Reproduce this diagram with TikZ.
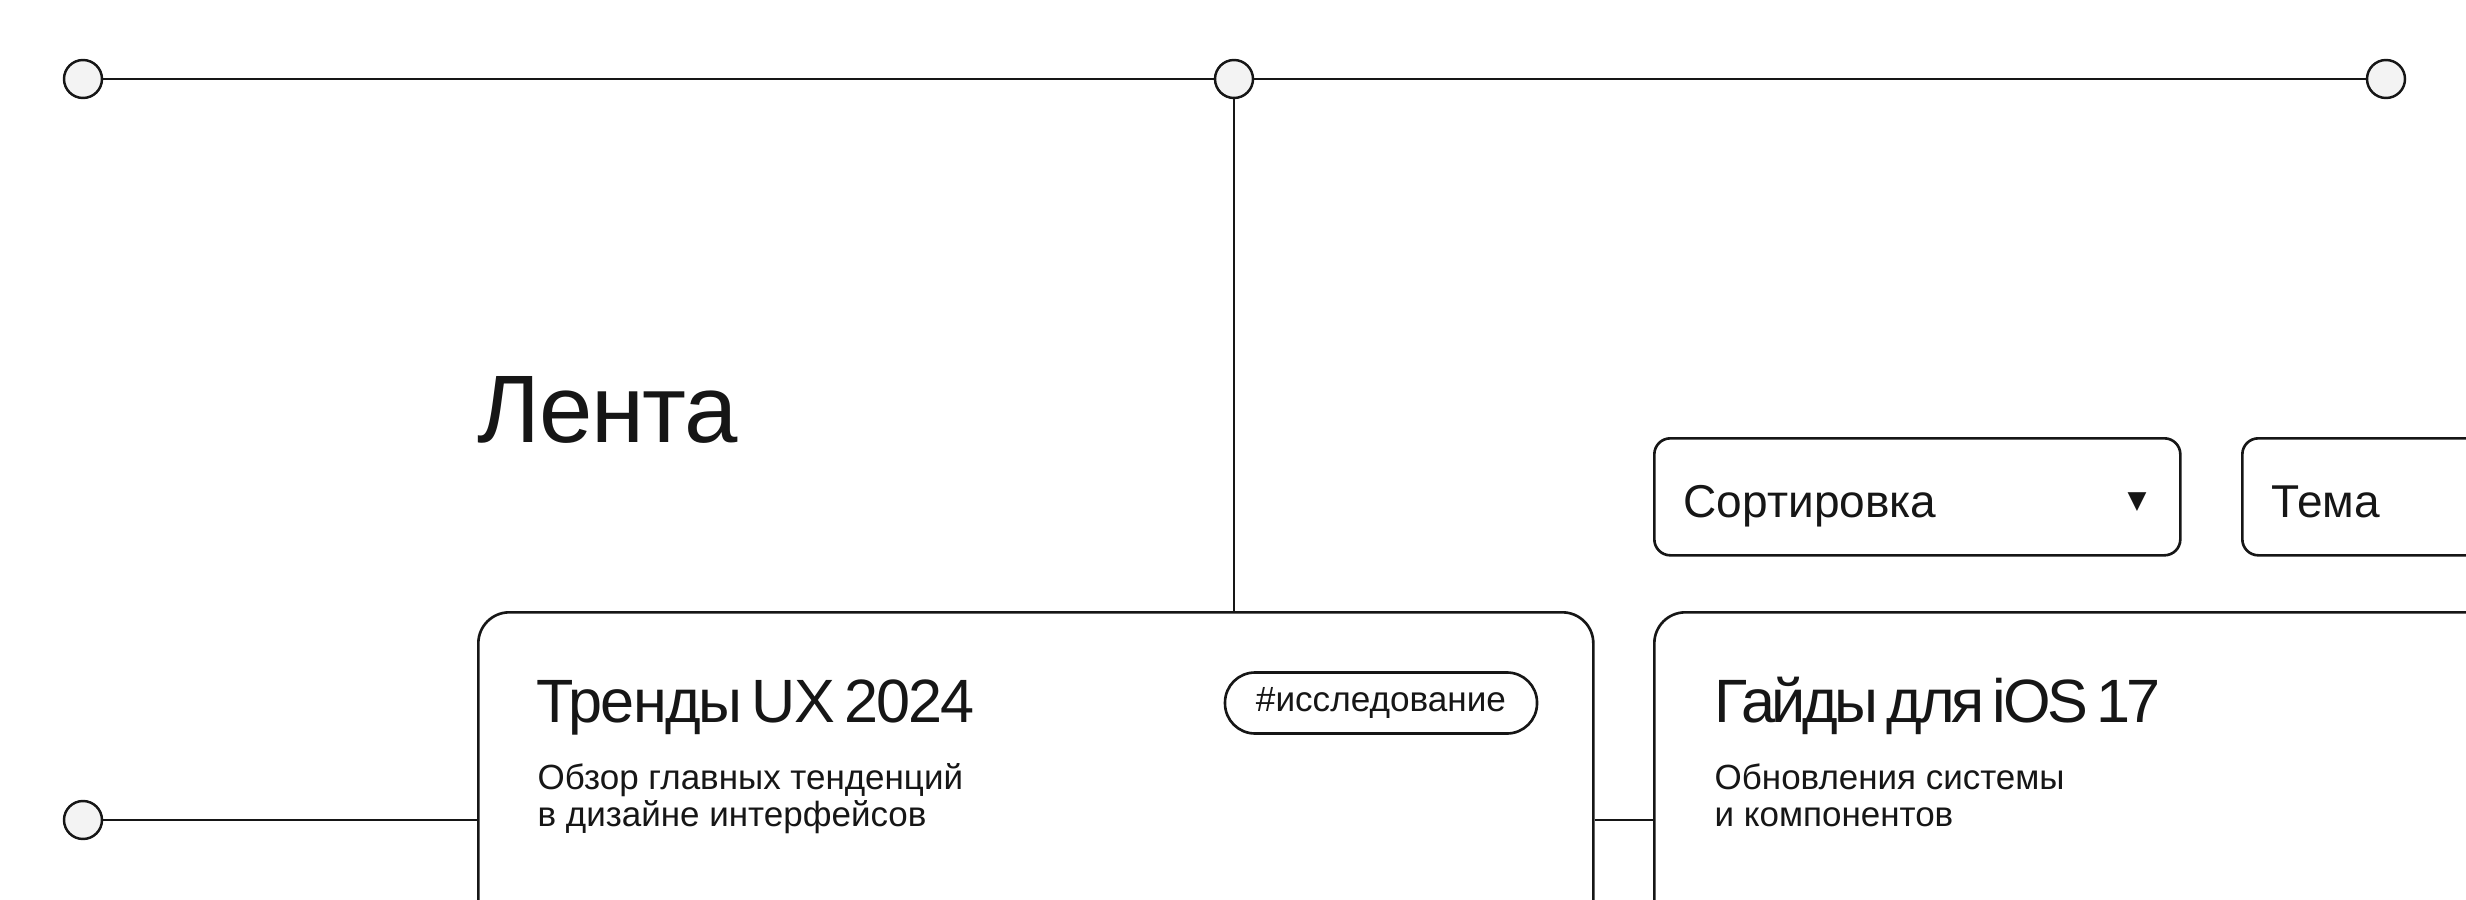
\documentclass[tikz,border=0pt]{standalone}
\usepackage{fontspec}
\setmainfont{Liberation Sans}
\newfontfamily\bigfont[LetterSpace=-1.5]{Liberation Sans}
\newfontfamily\headfont[LetterSpace=-3,WordSpace=0.6]{Liberation Sans}
\newfontfamily\tightfont[LetterSpace=-5.5,WordSpace=0.6]{Liberation Sans}
\newfontfamily\symfont{DejaVu Sans}
\definecolor{ink}{HTML}{161616}
\definecolor{dotfill}{HTML}{F3F3F3}

\begin{document}
\begin{tikzpicture}[x=0.1mm, y=-0.1mm,
    wire/.style={draw=ink, line width=0.7pt},
    dot/.style={circle, draw=ink, line width=0.7pt, fill=dotfill, minimum size=3.8mm, inner sep=0pt},
    card/.style={draw=ink, line width=0.75pt, rounded corners=3.1mm, fill=white, anchor=north west, minimum width=111.5mm, minimum height=49mm},
    selectbox/.style={draw=ink, line width=0.75pt, rounded corners=1.6mm, anchor=north west, minimum width=52.6mm, minimum height=11.7mm},
    tagbox/.style={draw=ink, line width=0.75pt, rounded corners=3mm, minimum width=31.2mm, minimum height=6.1mm, inner sep=0pt, text=ink, font=\fontsize{10pt}{11pt}\selectfont},
    txt/.style={anchor=base west, inner sep=0pt, text=ink},
    subtxt/.style={txt, font=\fontsize{9.95pt}{11pt}\selectfont}]

    \useasboundingbox (0,0) rectangle (2466,900);
    \clip (0,0) rectangle (2466,900);

    % cards and selectors
    \node[card] (feed1) at (477,611) {};
    \node[card] (feed2) at (1653,611) {};
    \node[selectbox] (sortsel) at (1653,437) {};
    \node[selectbox] (topicsel) at (2241,437) {};

    % dots
    \node[dot] (tl) at (83,79) {};
    \node[dot] (tm) at (1234,79) {};
    \node[dot] (tr) at (2386,79) {};
    \node[dot] (ml) at (83,820) {};

    % connectors
    \draw[wire] (tl) -- (tm) -- (tr);
    \draw[wire] (tm) -- (tm |- feed1.north);
    \draw[wire] (ml) -- (ml -| feed1.west);
    \draw[wire] (feed1.east |- ml) -- (feed2.west |- ml);

    % heading
    \node[txt, font=\bigfont\fontsize{27.3pt}{30pt}\selectfont] (heading) at (477,442) {Лента};

    \node[txt, font=\fontsize{13.1pt}{15pt}\selectfont] (sortlbl) at (1683,517) {Сортировка};
    \node[inner sep=0pt, text=ink, font=\symfont\fontsize{7pt}{8pt}\selectfont] (sortarr) at (2137,502) {▼};
    \node[txt, font=\fontsize{13.1pt}{15pt}\selectfont] (topiclbl) at (2271,517) {Тема};

    % card 1
    \node[txt, font=\headfont\fontsize{17.4pt}{20pt}\selectfont] (title1) at (536,722) {Тренды UX 2024};
    \node[tagbox] (tag1) at (1381,703) {\#исследование};
    \node[subtxt] (sub1a) at (537,789) {Обзор главных тенденций};
    \node[subtxt] (sub1b) at (537,826) {в дизайне интерфейсов};

    % card 2
    \node[txt, font=\tightfont\fontsize{17.4pt}{20pt}\selectfont] (title2) at (1714,722) {Гайды для iOS 17};
    \node[subtxt] (sub2a) at (1714,789) {Обновления системы};
    \node[subtxt] (sub2b) at (1714,826) {и компонентов};
\end{tikzpicture}
\end{document}
